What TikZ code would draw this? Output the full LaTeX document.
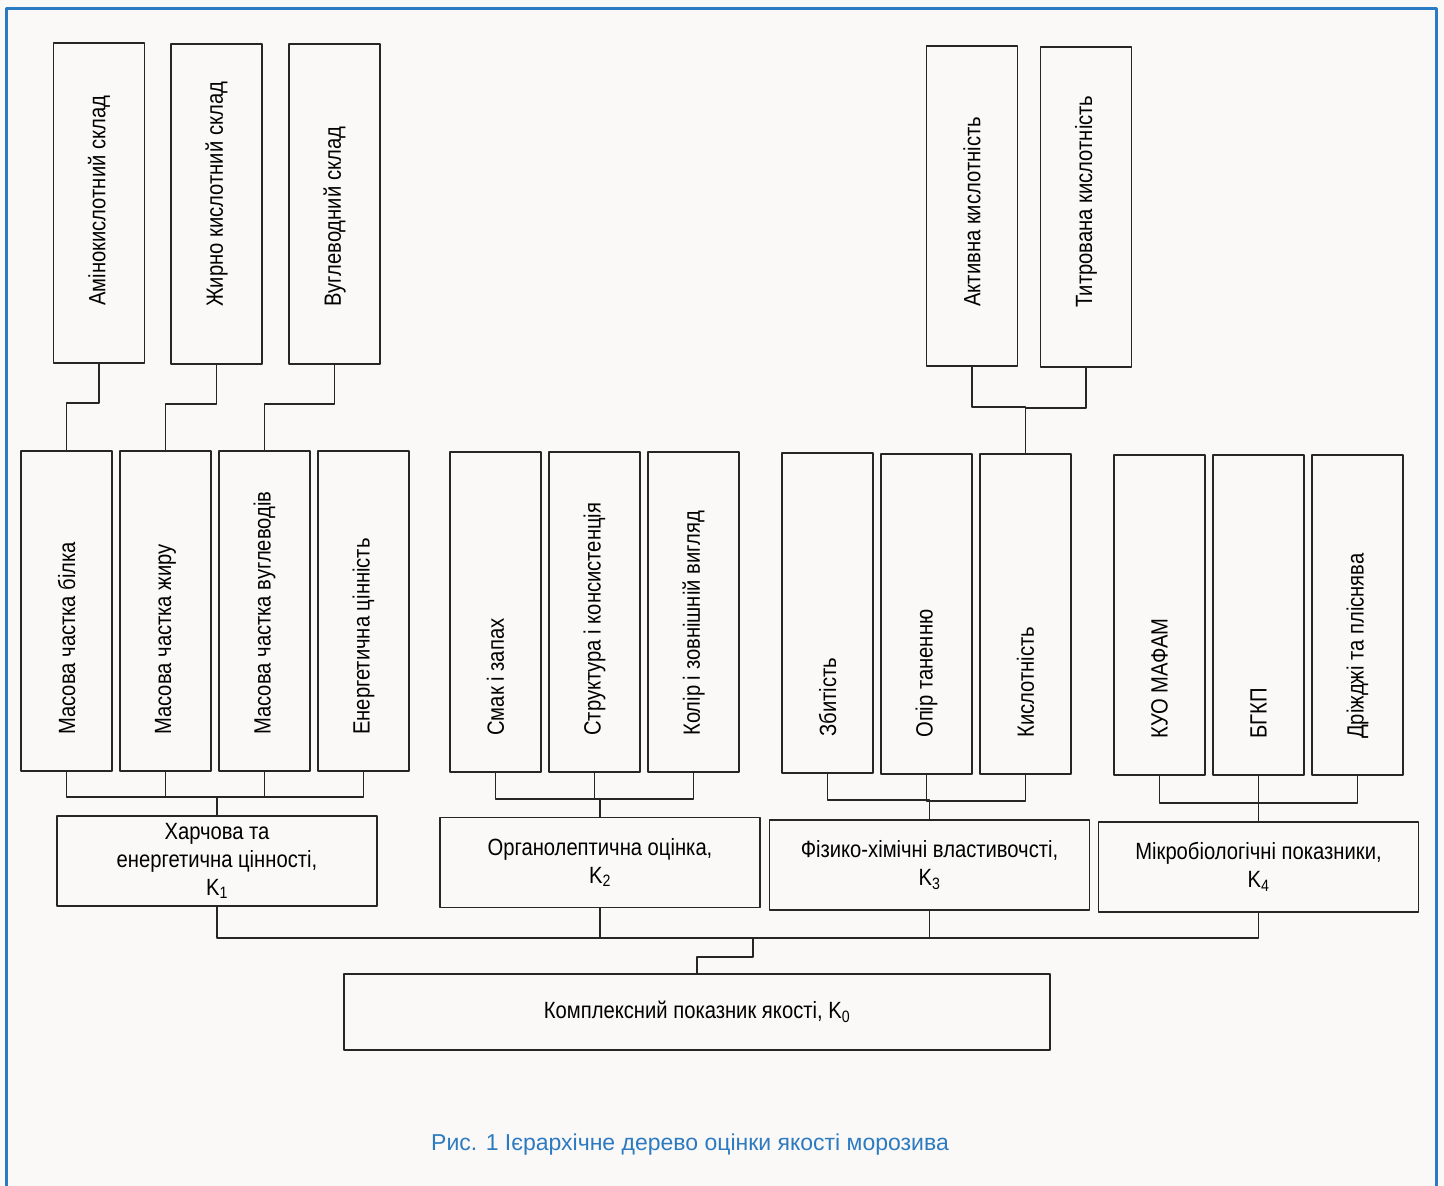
\documentclass[tikz,border=0pt]{standalone}
\usepackage{fontspec}
\setmainfont[FakeStretch=0.86]{Liberation Sans}
\newfontfamily\capfont{Liberation Sans}
\usepackage{tikz}
\definecolor{ink}{HTML}{262626}
\definecolor{rim}{HTML}{2A7BC4}
\definecolor{capblue}{HTML}{2C7BC0}
\definecolor{paper}{HTML}{FBF8F8}
\usetikzlibrary{calc}
\newcommand{\boxfont}{\fontsize{23.5}{28}\selectfont}
\tikzset{
  every picture/.style={line cap=round, line join=round},
  box/.style={draw=ink, line width=1.8pt, inner sep=0pt},
  tallbox/.style={box, minimum width=91pt, minimum height=320pt},
  kbox/.style={box, minimum width=320pt, minimum height=90pt, align=center, font=\boxfont, text=black},
  rootbox/.style={box, minimum width=706pt, minimum height=76pt, font=\boxfont, text=black},
  uptext/.style={rotate=90, anchor=west, inner sep=0pt, font=\boxfont, text=black},
  link/.style={draw=ink, line width=1.5pt}
}

\begin{document}
\begin{tikzpicture}[x=1pt, y=-1pt]
  % Page and blue frame
  \useasboundingbox (0,0) rectangle (1444,1186);
  \fill[paper] (0,0) rectangle (1444,1186);
  \draw[rim, line width=3pt] (6,1186) -- (6,8) -- (1436,8) -- (1436,1186);

  % Upper level: composition and acidity
  \node[tallbox] (amino) at (99,203) {};
  \node[tallbox] (fatacid) at (216.5,204) {};
  \node[tallbox] (carbo) at (334.5,204) {};
  \node[tallbox] (actacid) at (972,206) {};
  \node[tallbox] (titacid) at (1086,207) {};
  \node[uptext] (amino-t) at ([yshift=58pt]amino.south) {Амінокислотний склад};
  \node[uptext] (fatacid-t) at ([yshift=58pt]fatacid.south) {Жирно кислотний склад};
  \node[uptext] (carbo-t) at ([yshift=58pt]carbo.south) {Вуглеводний склад};
  \node[uptext] (actacid-t) at ([yshift=60pt]actacid.south) {Активна кислотність};
  \node[uptext] (titacid-t) at ([yshift=60pt]titacid.south) {Титрована кислотність};

  % Single indicators
  \node[tallbox] (protein) at (66.5,611) {};
  \node[tallbox] (fat) at (165.5,611) {};
  \node[tallbox] (carbs) at (264.5,611) {};
  \node[tallbox] (energy) at (363.5,611) {};
  \node[tallbox] (taste) at (495.5,612) {};
  \node[tallbox] (texture) at (594.5,612) {};
  \node[tallbox] (colour) at (693.5,612) {};
  \node[tallbox] (overrun) at (827.5,613) {};
  \node[tallbox] (melt) at (926.5,614) {};
  \node[tallbox] (acidity) at (1025.5,614) {};
  \node[tallbox] (cfu) at (1159.5,615) {};
  \node[tallbox] (coli) at (1258.5,615) {};
  \node[tallbox] (yeast) at (1357.5,615) {};
  \node[uptext] (protein-t) at ([yshift=37pt]protein.south) {Масова частка білка};
  \node[uptext] (fat-t) at ([yshift=37pt]fat.south) {Масова частка жиру};
  \node[uptext] (carbs-t) at ([yshift=37pt]carbs.south) {Масова частка вуглеводів};
  \node[uptext] (energy-t) at ([yshift=37pt]energy.south) {Енергетична цінність};
  \node[uptext] (taste-t) at ([yshift=37pt]taste.south) {Смак і запах};
  \node[uptext] (texture-t) at ([yshift=37pt]texture.south) {Структура і консистенція};
  \node[uptext] (colour-t) at ([yshift=37pt]colour.south) {Колір і зовнішній вигляд};
  \node[uptext] (overrun-t) at ([yshift=37pt]overrun.south) {Збитість};
  \node[uptext] (melt-t) at ([yshift=37pt]melt.south) {Опір таненню};
  \node[uptext] (acidity-t) at ([yshift=37pt]acidity.south) {Кислотність};
  \node[uptext] (cfu-t) at ([yshift=37pt]cfu.south) {КУО МАФАМ};
  \node[uptext] (coli-t) at ([yshift=37pt]coli.south) {БГКП};
  \node[uptext] (yeast-t) at ([yshift=37pt]yeast.south) {Дріжджі та пліснява};

  % Group indicators and the complex one
  \node[kbox] (k1) at (217,861) {Харчова та\\енергетична цінності,\\K\textsubscript{1}};
  \node[kbox] (k2) at (600,862.5) {Органолептична оцінка,\\K\textsubscript{2}};
  \node[kbox] (k3) at (929.5,865) {Фізико-хімічні властивочсті,\\K\textsubscript{3}};
  \node[kbox] (k4) at (1258.5,867) {Мікробіологічні показники,\\K\textsubscript{4}};
  \node[rootbox] (k0) at (697,1012) {Комплексний показник якості, K\textsubscript{0}};
  \coordinate (kbus) at (753,938);

  % Tree links
  \draw[link] (amino.south) -- ++(0,39) -| (protein.north);
  \draw[link] (fatacid.south) -- ++(0,39) -| (fat.north);
  \draw[link] (carbo.south) -- ++(0,39) -| (carbs.north);
  \draw[link] (actacid.south) -- ++(0,40) -| (acidity.north);
  \draw[link] (titacid.south) -- ++(0,40) -| (acidity.north);

  \draw[link] (protein.south) -- ++(0,25) -| (k1.north);
  \draw[link] (fat.south) -- ++(0,25) -| (k1.north);
  \draw[link] (carbs.south) -- ++(0,25) -| (k1.north);
  \draw[link] (energy.south) -- ++(0,25) -| (k1.north);
  \draw[link] (taste.south) -- ++(0,26) -| (k2.north);
  \draw[link] (texture.south) -- ++(0,26) -| (k2.north);
  \draw[link] (colour.south) -- ++(0,26) -| (k2.north);
  \draw[link] (overrun.south) -- ++(0,26) -| (k3.north);
  \draw[link] (melt.south) -- ++(0,26) -| (k3.north);
  \draw[link] (acidity.south) -- ++(0,26) -| (k3.north);
  \draw[link] (cfu.south) -- ++(0,27) -| (k4.north);
  \draw[link] (coli.south) -- ++(0,27) -| (k4.north);
  \draw[link] (yeast.south) -- ++(0,27) -| (k4.north);

  \draw[link] (k1.south) |- (kbus);
  \draw[link] (k2.south) |- (kbus);
  \draw[link] (k3.south) |- (kbus);
  \draw[link] (k4.south) |- (kbus);
  \draw[link] (kbus) -- ++(0,19) -| (k0.north);

  % Caption
  \node[font=\capfont\fontsize{23}{28}\selectfont, text=capblue] (caption) at (690,1145)
    {Рис. 1 Ієрархічне дерево оцінки якості морозива};
\end{tikzpicture}
\end{document}
